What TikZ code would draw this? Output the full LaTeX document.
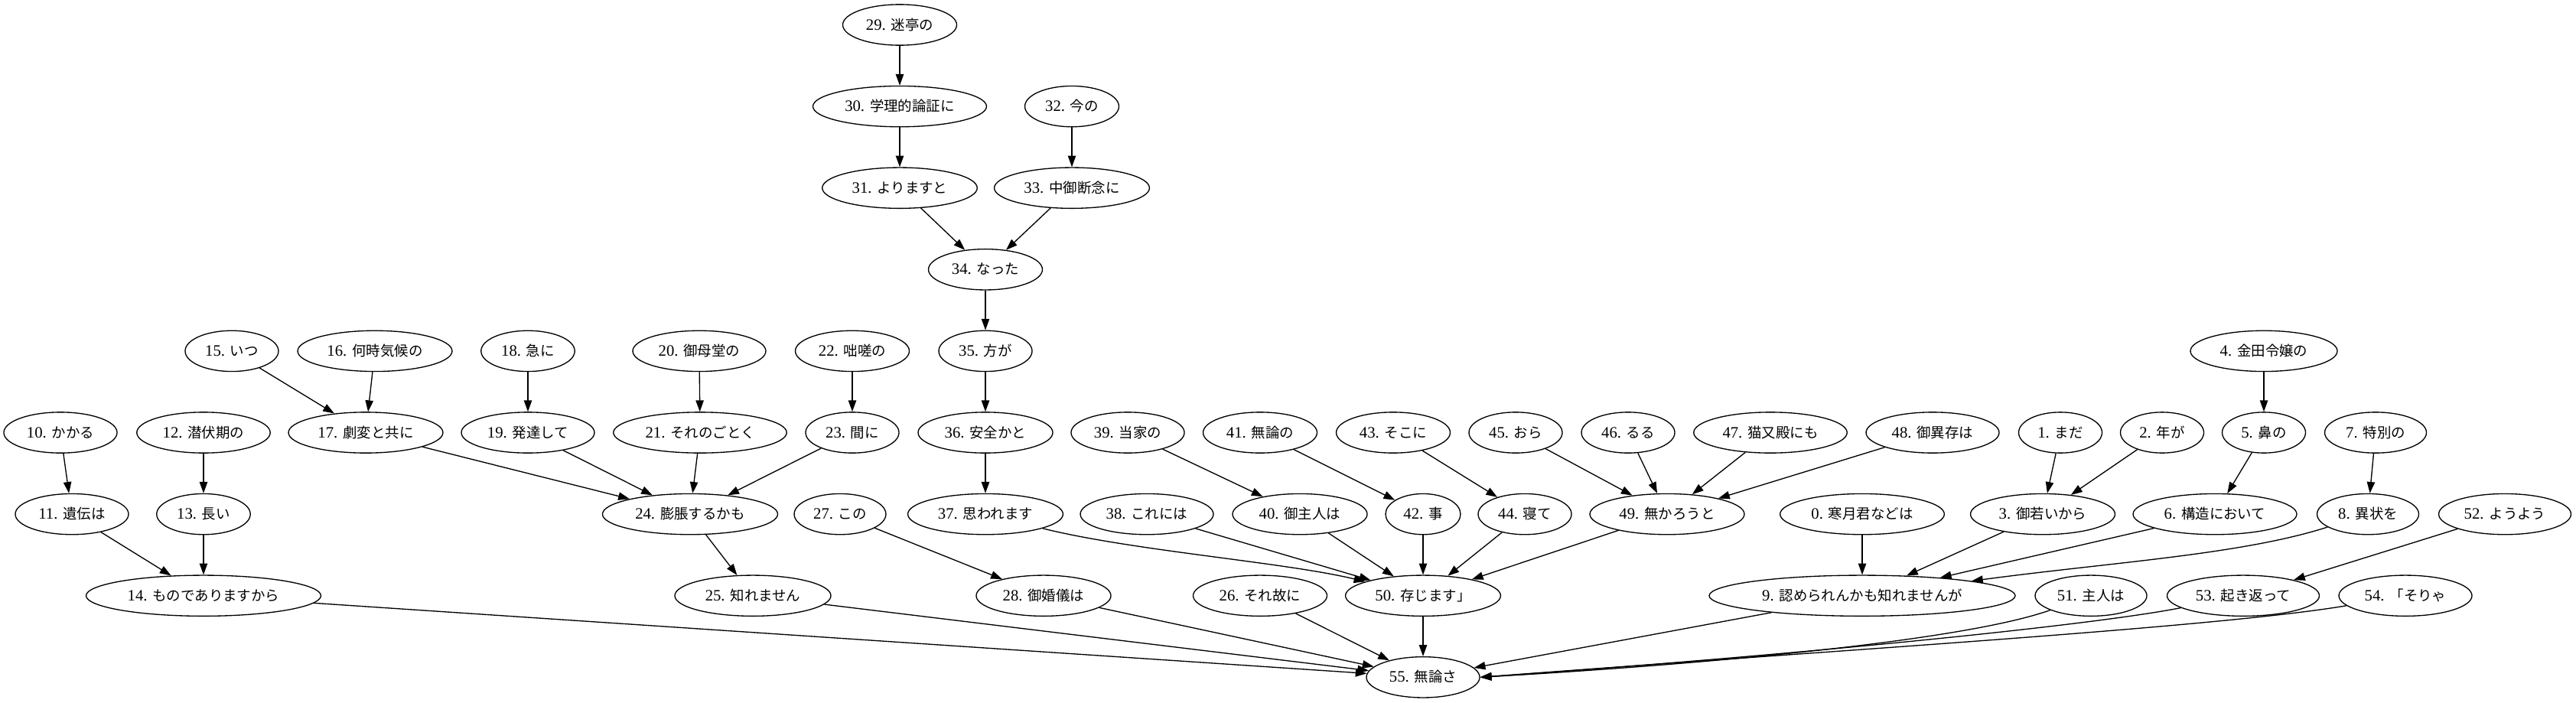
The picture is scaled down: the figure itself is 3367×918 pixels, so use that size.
\documentclass[tikz,border=0pt]{standalone}
\usepackage{fontspec}
\setmainfont{Liberation Serif}
\newfontfamily\cjk[Scale=0.89]{Noto Sans CJK JP}
\usetikzlibrary{shapes.geometric,arrows.meta}
\tikzset{
  nd/.style={draw, ellipse, line width=0.9pt, minimum height=36pt, inner xsep=2pt, inner ysep=1pt,
    text height=11pt, text depth=2pt, font=\fontsize{14pt}{16pt}\selectfont},
  e/.style={-{Triangle[length=10pt,width=7pt]}, line width=0.9pt}
}
\begin{document}
\begin{tikzpicture}[x=0.67538pt, y=-0.67538pt]
\fill[white] (0,0) rectangle (3367,918);
\useasboundingbox (0,0) rectangle (3367,918);
% row 0-3
\node[nd, minimum width=100.6pt] (n29) at (1176,32.5) {29. \cjk 迷亭の};
\node[nd, minimum width=153.3pt] (n30) at (1176,139.1) {30. \cjk 学理的論証に};
\node[nd, minimum width=83pt] (n32) at (1401,139.1) {32. \cjk 今の};
\node[nd, minimum width=136.8pt] (n31) at (1176,245.7) {31. \cjk よりますと};
\node[nd, minimum width=137pt] (n33) at (1401,245.7) {33. \cjk 中御断念に};
\node[nd, minimum width=100.6pt] (n34) at (1288,352.3) {34. \cjk なった};
% row 4
\node[nd, minimum width=82.4pt] (n15) at (303,458.9) {15. \cjk いつ};
\node[nd, minimum width=136.4pt] (n16) at (490,458.9) {16. \cjk 何時気候の};
\node[nd, minimum width=82.7pt] (n18) at (690,458.9) {18. \cjk 急に};
\node[nd, minimum width=117.5pt] (n20) at (914,458.9) {20. \cjk 御母堂の};
\node[nd, minimum width=100.6pt] (n22) at (1114,458.9) {22. \cjk 咄嗟の};
\node[nd, minimum width=82.4pt] (n35) at (1288,458.9) {35. \cjk 方が};
\node[nd, minimum width=129.7pt] (n4) at (2959,458.9) {4. \cjk 金田令嬢の};
% row 5
\node[nd, minimum width=100pt] (n10) at (79,565.5) {10. \cjk かかる};
\node[nd, minimum width=117.8pt] (n12) at (266,565.5) {12. \cjk 潜伏期の};
\node[nd, minimum width=136.4pt] (n17) at (478,565.5) {17. \cjk 劇変と共に};
\node[nd, minimum width=117.5pt] (n19) at (690,565.5) {19. \cjk 発達して};
\node[nd, minimum width=153pt] (n21) at (915,565.5) {21. \cjk それのごとく};
\node[nd, minimum width=82.4pt] (n23) at (1114,565.5) {23. \cjk 間に};
\node[nd, minimum width=118.9pt] (n36) at (1288,565.5) {36. \cjk 安全かと};
\node[nd, minimum width=100pt] (n39) at (1474,565.5) {39. \cjk 当家の};
\node[nd, minimum width=100.6pt] (n41) at (1647,565.5) {41. \cjk 無論の};
\node[nd, minimum width=100.6pt] (n43) at (1821,565.5) {43. \cjk そこに};
\node[nd, minimum width=82.4pt] (n45) at (1981,565.5) {45. \cjk おら};
\node[nd, minimum width=82.4pt] (n46) at (2128,565.5) {46. \cjk るる};
\node[nd, minimum width=135.4pt] (n47) at (2314,565.5) {47. \cjk 猫又殿にも};
\node[nd, minimum width=117.5pt] (n48) at (2526,565.5) {48. \cjk 御異存は};
\node[nd, minimum width=73.6pt] (n1) at (2693,565.5) {1. \cjk まだ};
\node[nd, minimum width=73.6pt] (n2) at (2826,565.5) {2. \cjk 年が};
\node[nd, minimum width=73.6pt] (n5) at (2959,565.5) {5. \cjk 鼻の};
\node[nd, minimum width=89.8pt] (n7) at (3105,565.5) {7. \cjk 特別の};
% row 6
\node[nd, minimum width=100pt] (n11) at (94,672.1) {11. \cjk 遺伝は};
\node[nd, minimum width=82.7pt] (n13) at (266,672.1) {13. \cjk 長い};
\node[nd, minimum width=154.7pt] (n24) at (902,672.1) {24. \cjk 膨脹するかも};
\node[nd, minimum width=81pt] (n27) at (1098,672.1) {27. \cjk この};
\node[nd, minimum width=137pt] (n37) at (1288,672.1) {37. \cjk 思われます};
\node[nd, minimum width=117.5pt] (n38) at (1499,672.1) {38. \cjk これには};
\node[nd, minimum width=118.9pt] (n40) at (1699,672.1) {40. \cjk 御主人は};
\node[nd, minimum width=66.2pt] (n42) at (1860,672.1) {42. \cjk 事};
\node[nd, minimum width=82.4pt] (n44) at (1993,672.1) {44. \cjk 寝て};
\node[nd, minimum width=136.4pt] (n49) at (2179,672.1) {49. \cjk 無かろうと};
\node[nd, minimum width=145pt] (n0) at (2434,672.1) {0. \cjk 寒月君などは};
\node[nd, minimum width=127.6pt] (n3) at (2670,672.1) {3. \cjk 御若いから};
\node[nd, minimum width=144.5pt] (n6) at (2895,672.1) {6. \cjk 構造において};
\node[nd, minimum width=89.8pt] (n8) at (3095,672.1) {8. \cjk 異状を};
\node[nd, minimum width=116.8pt] (n52) at (3274,672.1) {52. \cjk ようよう};
% row 7
\node[nd, minimum width=207.3pt] (n14) at (266,778.7) {14. \cjk ものでありますから};
\node[nd, minimum width=137.8pt] (n25) at (984,778.7) {25. \cjk 知れません};
\node[nd, minimum width=118.9pt] (n28) at (1364,778.7) {28. \cjk 御婚儀は};
\node[nd, minimum width=118.2pt] (n26) at (1647,778.7) {26. \cjk それ故に};
\node[nd, minimum width=137pt] (n50) at (1860,778.7) {50. \cjk 存じます」};
\node[nd, minimum width=270.2pt] (n9) at (2434,778.7) {9. \cjk 認められんかも知れませんが};
\node[nd, minimum width=98.6pt] (n51) at (2733,778.7) {51. \cjk 主人は};
\node[nd, minimum width=134.4pt] (n53) at (2932,778.7) {53. \cjk 起き返って};
\node[nd, minimum width=117.5pt] (n54) at (3144,778.7) {54. \cjk 「そりゃ};
% row 8
\node[nd, minimum width=100pt] (n55) at (1860,885.3) {55. \cjk 無論さ};
% edges
\draw[e] (n29) -- (n30);
\draw[e] (n30) -- (n31);
\draw[e] (n32) -- (n33);
\draw[e] (n31) -- (n34);
\draw[e] (n33) -- (n34);
\draw[e] (n34) -- (n35);
\draw[e] (n35) -- (n36);
\draw[e] (n36) -- (n37);
\draw[e] (n37) .. controls (1480,720) and (1680,735) .. (n50);
\draw[e] (n15) -- (n17);
\draw[e] (n16) -- (n17);
\draw[e] (n17) -- (n24);
\draw[e] (n18) -- (n19);
\draw[e] (n19) -- (n24);
\draw[e] (n20) -- (n21);
\draw[e] (n21) -- (n24);
\draw[e] (n22) -- (n23);
\draw[e] (n23) -- (n24);
\draw[e] (n24) -- (n25);
\draw[e] (n25) -- (n55);
\draw[e] (n10) -- (n11);
\draw[e] (n11) -- (n14);
\draw[e] (n12) -- (n13);
\draw[e] (n13) -- (n14);
\draw[e] (n14) -- (n55);
\draw[e] (n27) -- (n28);
\draw[e] (n28) -- (n55);
\draw[e] (n26) -- (n55);
\draw[e] (n39) -- (n40);
\draw[e] (n40) -- (n50);
\draw[e] (n41) -- (n42);
\draw[e] (n42) -- (n50);
\draw[e] (n43) -- (n44);
\draw[e] (n44) -- (n50);
\draw[e] (n38) -- (n50);
\draw[e] (n45) -- (n49);
\draw[e] (n46) -- (n49);
\draw[e] (n47) -- (n49);
\draw[e] (n48) -- (n49);
\draw[e] (n49) -- (n50);
\draw[e] (n50) -- (n55);
\draw[e] (n1) -- (n3);
\draw[e] (n2) -- (n3);
\draw[e] (n3) -- (n9);
\draw[e] (n4) -- (n5);
\draw[e] (n5) -- (n6);
\draw[e] (n6) -- (n9);
\draw[e] (n7) -- (n8);
\draw[e] (n8) .. controls (2930,725) and (2760,735) .. (n9);
\draw[e] (n0) -- (n9);
\draw[e] (n9) -- (n55);
\draw[e] (n51) .. controls (2560,840) and (2200,870) .. (n55.east);
\draw[e] (n52) -- (n53);
\draw[e] (n53) .. controls (2720,820) and (2300,860) .. (n55.east);
\draw[e] (n54) .. controls (2900,820) and (2400,850) .. (n55.east);
\end{tikzpicture}
\end{document}
